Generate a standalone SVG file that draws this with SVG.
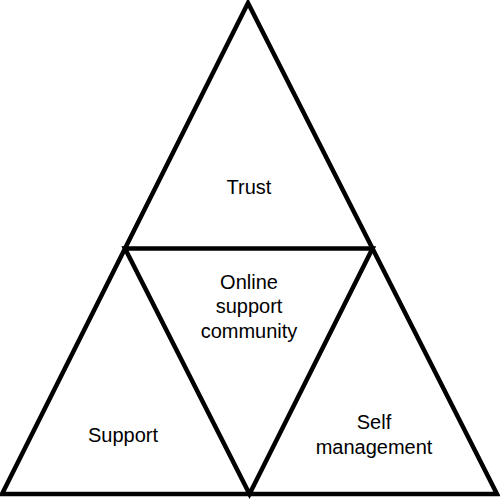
<svg xmlns="http://www.w3.org/2000/svg" width="500" height="499" viewBox="0 0 500 499">
<style>
.edge{fill:none;stroke:#000;stroke-width:4.5;stroke-linejoin:miter}
.lbl{font-family:"Liberation Sans",Arial,sans-serif;font-size:20px;fill:#000;text-anchor:middle}
</style>
<rect width="500" height="499" fill="#fff"/>
<g id="connectors">
<polygon class="edge" points="248,3 2,494 497,494"/>
<polygon class="edge" points="125,248.5 372.5,248.5 249.5,494"/>
</g>
<g id="trust"><text class="lbl" x="249" y="194">Trust</text></g>
<g id="online-support-community">
<text class="lbl" x="249" y="289">Online</text>
<text class="lbl" x="249" y="313">support</text>
<text class="lbl" x="249" y="338">community</text>
</g>
<g id="support"><text class="lbl" x="123" y="442">Support</text></g>
<g id="self-management">
<text class="lbl" x="374" y="429">Self</text>
<text class="lbl" x="374" y="454">management</text>
</g>
</svg>
